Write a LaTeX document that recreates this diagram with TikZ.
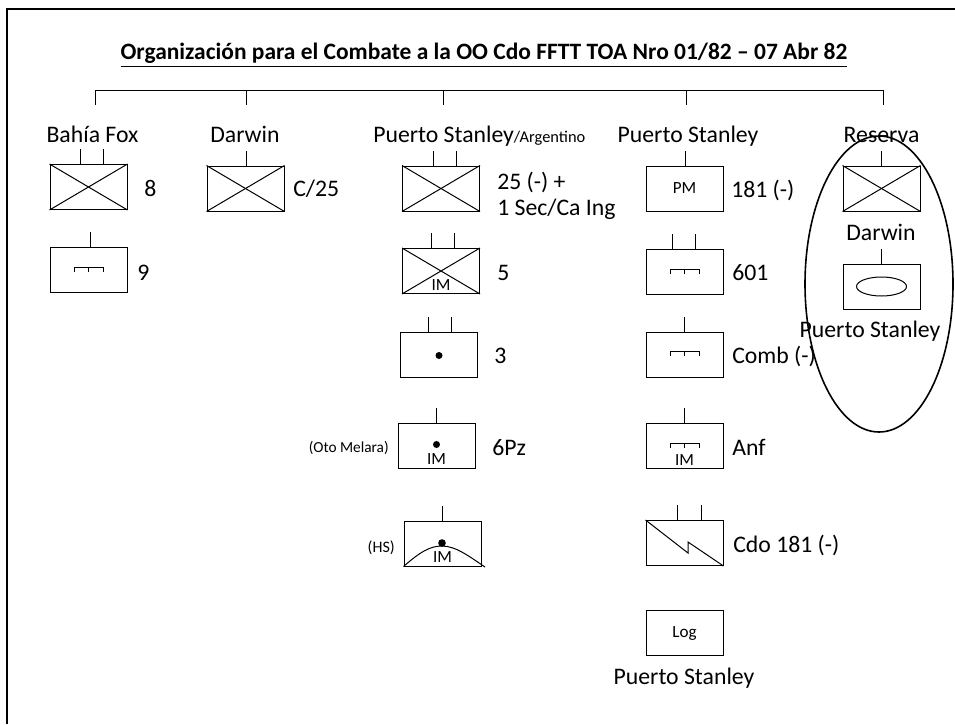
\documentclass[tikz,border=0pt]{standalone}
\usepackage{fontspec}
\setmainfont{Carlito}
\begin{document}
\begin{tikzpicture}[x=0.75pt,y=-0.75pt,
  unitbox/.style={draw,line width=0.75pt,rectangle,minimum width=57.75pt,minimum height=33.75pt,inner sep=0pt},
  mainf/.style={font=\fontsize{17.8}{21}\selectfont,inner sep=0pt},
  smallf/.style={font=\fontsize{12.8}{15}\selectfont,inner sep=0pt},
  lbl/.style={mainf,anchor=base west},
  thin/.style={line width=0.75pt}]
\useasboundingbox (0,0) rectangle (955,724);
% frame
\draw[line width=1.5pt] (7,724) -- (7,9) -- (955,9);
% title
\node[font=\fontsize{17.6}{21}\selectfont\bfseries,anchor=base,inner sep=0pt] (title) at (484,60)
  {\underline{Organización para el Combate a la OO Cdo FFTT TOA Nro 01/82 – 07 Abr 82}};
% tree
\coordinate (t1) at (95,90);
\coordinate (t2) at (246,90);
\coordinate (t3) at (443,90);
\coordinate (t4) at (686,90);
\coordinate (t5) at (883,90);
\draw[thin] (t1) -- (t5);
\foreach \t in {t1,t2,t3,t4,t5} \draw[thin] (\t) -- ++(0,15);
% headings
\node[mainf,anchor=base] (h1) at (92.5,142) {Bahía Fox};
\node[mainf,anchor=base] (h2) at (245,142) {Darwin};
\node[mainf,anchor=base west] (h3) at (373,142) {Puerto Stanley\fontsize{12.3}{15}\selectfont/Argentino};
\node[mainf,anchor=base] (h4) at (688,142) {Puerto Stanley};
\node[mainf,anchor=base] (h5) at (881.5,142) {Reserva};
% boxes
\node[unitbox] (b8) at (88.5,187) {};
\node[unitbox] (b9) at (88.5,269.5) {};
\node[unitbox] (bc25) at (245.5,188.5) {};
\node[unitbox] (b25) at (441,188.5) {};
\node[unitbox] (b5) at (441,271) {};
\node[unitbox] (b3) at (439,354.5) {};
\node[unitbox] (b6pz) at (436.5,445.5) {};
\node[unitbox] (bhs) at (442.5,543.5) {};
\node[unitbox] (bpm) at (684.5,188.5) {};
\node[unitbox] (b601) at (684.5,271.5) {};
\node[unitbox] (bcomb) at (684.5,355) {};
\node[unitbox] (banf) at (684.5,446) {};
\node[unitbox] (bcdo) at (684.5,543) {};
\node[unitbox] (blog) at (684.5,633) {};
\node[unitbox] (br1) at (881.5,188.5) {};
\node[unitbox] (br2) at (881.5,286.5) {};
% crosses
\foreach \b in {b8,bc25,b25,b5,br1} {
  \draw[thin] (\b.north west) -- (\b.south east);
  \draw[thin] (\b.south west) -- (\b.north east);
}
% ticks
\foreach \b/\o in {b8/-8.5,b8/14.5,b9/1.5,bc25/0.5,b25/-8,b25/15,b5/-10,b5/13,b3/-11,b3/12,b6pz/-0.5,bhs/-0.5,bpm/0.5,b601/-12.5,b601/10.5,bcomb/-0.5,banf/-0.5,bcdo/-7.5,bcdo/16.5,br1/-0.5,br2/-0.5}
  \draw[thin] ([shift={(\o,0)}]\b.north) -- ++(0,-15);
% infantry-like symbols
\foreach \cx/\cy in {88.5/267,684.5/269,684.5/351,684.5/443}{
  \draw[thin] (\cx-14.5,\cy+5) -- (\cx-14.5,\cy) -- (\cx+14.5,\cy) -- (\cx+14.5,\cy+5);
  \draw[thin] (\cx,\cy) -- (\cx,\cy+5);
}
% dots
\fill ([yshift=-0.75pt]b3.center) circle (3.5);
\fill ([yshift=0.75pt]b6pz.center) circle (3.5);
\fill (442,543) circle (3.8);
% IM labels
\node[smallf,anchor=base] (im5) at ([yshift=3pt]b5.south) {IM};
\node[smallf,anchor=base] (im6) at ([yshift=3pt]b6pz.south) {IM};
\node[smallf,anchor=base] (imhs) at ([yshift=3pt]bhs.south) {IM};
\node[smallf,anchor=base] (imanf) at ([yshift=3pt]banf.south) {IM};
% HS curve
\draw[thin] (bhs.south west) .. controls (420,552) and (430,546) .. (442,546) .. controls (456,546) and (470,557) .. (485,567);
% Cdo zigzag
\draw[thin] (bcdo.north west) -- (688,553) -- (688,542) -- (bcdo.south east);
% inner texts
\node[smallf] (pm) at (bpm.center) {PM};
\node[smallf] (log) at (blog.center) {Log};
\draw[thin] (br2.center) ellipse (25 and 9.5);
% labels
\node[lbl] (l8) at (144,196) {8};
\node[lbl] (l9) at (137,280) {9};
\node[lbl] (lc25) at (293,196) {C/25};
\node[lbl] (l25) at (497,189) {25 (-) +};
\node[lbl] (l25b) at (497,215) {1 Sec/Ca Ing};
\node[lbl] (l5) at (497,280) {5};
\node[lbl] (l3) at (494,363) {3};
\node[lbl] (l6) at (492,455) {6Pz};
\node[smallf,anchor=base east,font=\fontsize{11.5}{14}\selectfont] (oto) at (389,452) {(Oto Melara)};
\node[smallf,anchor=base east,font=\fontsize{12}{14}\selectfont] (hs) at (395,552) {(HS)};
\node[lbl] (l181) at (731,197) {181 (-)};
\node[lbl] (l601) at (732,280) {601};
\node[lbl] (lcomb) at (732,363) {Comb (-)};
\node[lbl] (lanf) at (732,455) {Anf};
\node[lbl] (lcdo) at (733,552) {Cdo 181 (-)};
\node[mainf,anchor=base] (lps) at (684,684) {Puerto Stanley};
\node[mainf,anchor=base] (rdar) at (881,240) {Darwin};
\node[mainf,anchor=base] (rps) at (870,337) {Puerto Stanley};
% reserve ellipse
\draw[line width=1.2pt] (879,284) ellipse (74 and 148);
\end{tikzpicture}
\end{document}
